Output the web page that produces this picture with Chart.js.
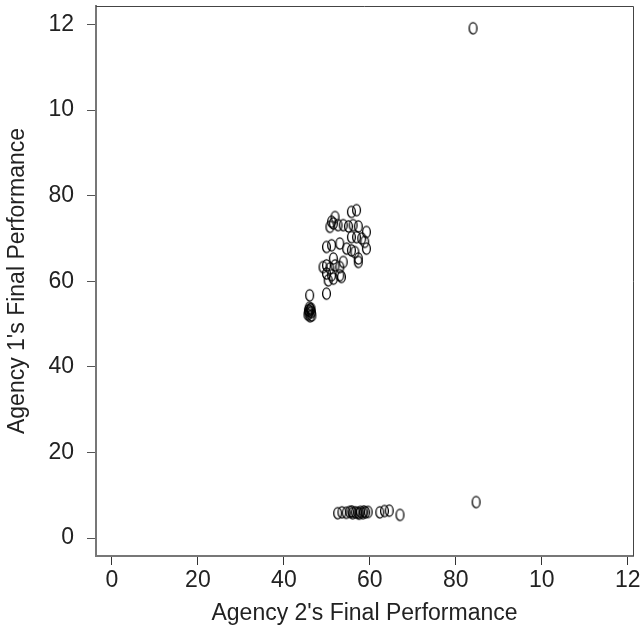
<!DOCTYPE html>
<html>
<head>
<meta charset="utf-8">
<script src="https://cdn.jsdelivr.net/npm/chart.js@4"></script>
<style>
  html, body { margin: 0; padding: 0; background: #fff; }
  #wrap { width: 642px; height: 636px; }
</style>
</head>
<body>
<div id="wrap"><canvas id="chart" width="642" height="636"></canvas></div>
<script>
// Agency 2 (x) vs Agency 1 (y) final performance
const agency2 = [
  55.7, 56.9, 51.9, 51.1, 51.5, 50.7, 52.6, 53.8, 55.0, 56.1,
  57.3, 59.2, 55.7, 56.9, 58.1, 58.8, 49.9, 51.1, 53.0, 54.6,
  55.7, 56.5, 59.2, 57.3, 51.5, 53.8, 49.9, 49.1, 50.7, 51.9,
  53.0, 57.3, 49.9, 51.1, 53.0, 50.3, 51.5, 53.4, 46.0, 49.9,
  45.6, 45.8, 46.0, 46.2, 46.4, 45.9, 46.5, 46.1, 45.7, 46.3,
  52.5, 53.5, 54.5, 55.3, 56.0, 56.6, 57.2, 57.8, 58.4, 59.0,
  55.8, 57.5, 58.6, 59.6, 62.3, 63.4, 64.5, 67.0, 84.7, 84.0
];
const agency1 = [
  76.2, 76.6, 75.0, 73.9, 73.5, 72.7, 73.1, 73.1, 72.8, 73.1,
  72.8, 71.5, 70.3, 70.3, 70.0, 69.2, 68.0, 68.4, 68.8, 67.6,
  67.2, 66.8, 67.6, 65.3, 65.3, 64.5, 63.7, 63.3, 63.0, 63.7,
  63.3, 64.5, 61.8, 61.4, 61.4, 60.2, 60.6, 61.0, 56.7, 57.1,
  52.2, 52.6, 53.0, 53.4, 52.8, 53.8, 52.0, 51.8, 53.2, 53.6,
  5.8, 6.0, 5.9, 6.1, 5.8, 6.0, 5.9, 6.1, 5.8, 6.0,
  6.2, 5.7, 6.2, 6.1, 6.0, 6.3, 6.4, 5.4, 8.4, 119.1
];
const tickValues = [0, 20, 40, 60, 80, 100, 120];
const xTickLabels = ['0', '20', '40', '60', '80', '10', '12'];
const yTickLabels = ['0', '20', '40', '60', '80', '10', '12'];

const points = agency2.map((x, i) => ({ x: x, y: agency1[i] }));

// open ellipse marker
const marker = document.createElement('canvas');
marker.width = 11;
marker.height = 15;
const mctx = marker.getContext('2d');
mctx.strokeStyle = '#000';
mctx.lineWidth = 1.3;
mctx.beginPath();
mctx.ellipse(5.5, 7.5, 3.9, 5.6, 0, 0, Math.PI * 2);
mctx.stroke();

// thin top/right frame lines
const framePlugin = {
  id: 'frame',
  afterDraw(chart) {
    const { ctx, chartArea: a } = chart;
    ctx.save();
    ctx.strokeStyle = '#444';
    ctx.lineWidth = 1;
    ctx.beginPath();
    ctx.moveTo(a.left, a.top + 0.5);
    ctx.lineTo(a.right + 0.5, a.top + 0.5);
    ctx.lineTo(a.right + 0.5, a.bottom);
    ctx.stroke();
    ctx.restore();
  }
};

const font = { family: 'Liberation Sans, Arial, sans-serif', size: 23 };

new Chart(document.getElementById('chart').getContext('2d'), {
  type: 'scatter',
  data: {
    datasets: [{
      data: points,
      pointStyle: marker,
      pointRadius: 5,
    }]
  },
  options: {
    responsive: false,
    animation: false,
    layout: { padding: { top: 6, right: 9, left: 0, bottom: 0 } },
    plugins: { legend: { display: false }, tooltip: { enabled: false } },
    scales: {
      x: {
        type: 'linear',
        min: -3.7,
        max: 121.2,
        afterBuildTicks: (s) => { s.ticks = tickValues.map(v => ({ value: v })); },
        afterFit: (s) => { s.height = 80; s.paddingLeft = 0; s.paddingRight = 0; },
        grid: { drawOnChartArea: false, drawTicks: true, tickLength: 9, color: '#333', lineWidth: 1 },
        border: { display: true, color: '#777', width: 2 },
        ticks: {
          color: '#222',
          font: font,
          padding: 2,
          maxRotation: 0,
          autoSkip: false,
          callback: (v) => xTickLabels[tickValues.indexOf(v)]
        },
        title: {
          display: true,
          text: "Agency 2's Final Performance",
          color: '#222',
          font: font,
          padding: { top: 0, bottom: 9 }
        }
      },
      y: {
        type: 'linear',
        min: -4.2,
        max: 124.3,
        afterBuildTicks: (s) => { s.ticks = tickValues.map(v => ({ value: v })); },
        afterFit: (s) => { s.width = 96; s.paddingTop = 0; s.paddingBottom = 0; },
        grid: { drawOnChartArea: false, drawTicks: true, tickLength: 9, color: '#555', lineWidth: 1 },
        border: { display: true, color: '#777', width: 2 },
        ticks: {
          color: '#222',
          font: font,
          padding: 13,
          autoSkip: false,
          callback: (v) => yTickLabels[tickValues.indexOf(v)]
        },
        title: {
          display: true,
          text: "Agency 1's Final Performance",
          color: '#222',
          font: font,
          padding: { top: 4, bottom: 0 }
        }
      }
    }
  },
  plugins: [framePlugin]
});
</script>
</body>
</html>
